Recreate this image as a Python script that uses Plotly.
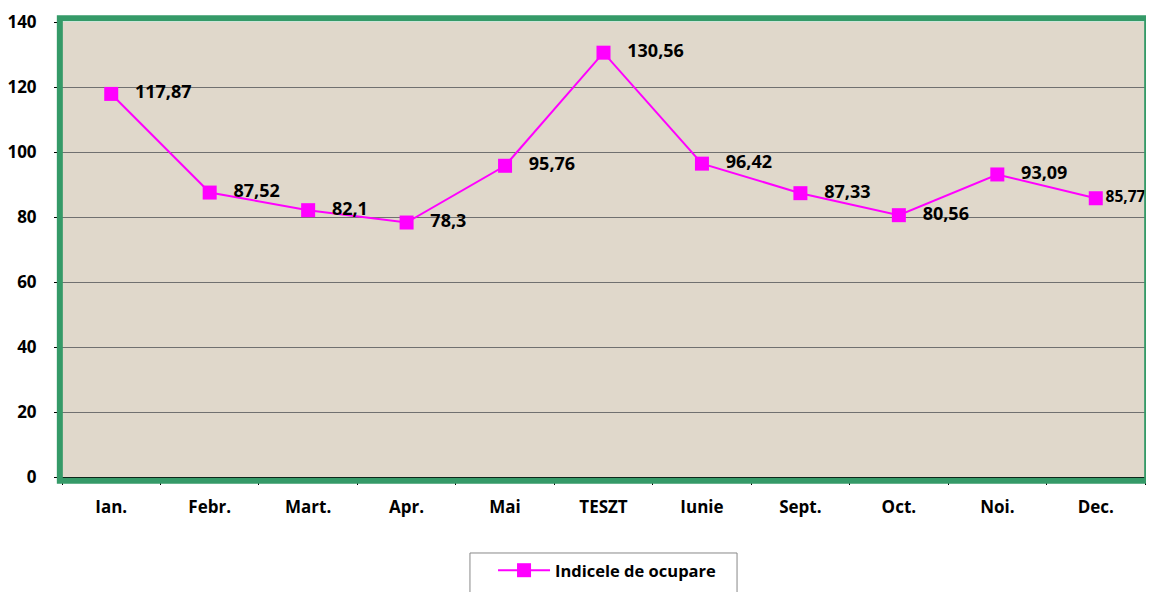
import plotly.graph_objects as go

categories = ["Ian.", "Febr.", "Mart.", "Apr.", "Mai", "TESZT", "Iunie", "Sept.", "Oct.", "Noi.", "Dec."]
values = [117.87, 87.52, 82.1, 78.3, 95.76, 130.56, 96.42, 87.33, 80.56, 93.09, 85.77]
labels = ["117,87", "87,52", "82,1", "78,3", "95,76", "130,56", "96,42", "87,33", "80,56", "93,09", "85,77"]
series_name = "Indicele de ocupare"

font_family = "Open Sans, Noto Sans, sans-serif"
label_pad = ["   "] * 10 + [""]
label_size = [18] * 10 + [15.5]

fig = go.Figure()
fig.add_trace(go.Scatter(
    x=categories, y=values, name=series_name,
    mode="lines+markers+text",
    line=dict(color="#FF00FF", width=2),
    marker=dict(symbol="square", size=14, color="#FF00FF"),
    text=[p + t for p, t in zip(label_pad, labels)],
    textposition="middle right",
    textfont=dict(family=font_family, size=label_size, color="black", weight="bold"),
    cliponaxis=False,
))

# page body has an 8px margin, so the figure is sized/offset to compensate
fig.update_layout(
    width=1146, height=584,
    margin=dict(l=54, r=9, t=14, b=115, autoexpand=False),
    paper_bgcolor="white",
    plot_bgcolor="#E0D8CB",
    font=dict(family=font_family, color="black"),
    showlegend=True,
    legend=dict(
        orientation="h", x=0.398, xanchor="left", y=-0.167, yanchor="top",
        borderwidth=0, bgcolor="rgba(0,0,0,0)",
        font=dict(family=font_family, size=16.5, color="black", weight="bold"),
        itemwidth=52,
    ),
    xaxis=dict(
        type="category", range=[-0.5, 10.5],
        showgrid=False, showline=True, linecolor="black", linewidth=2,
        ticks="outside", ticklen=6, tickcolor="black",
        tickson="boundaries", ticklabelstandoff=14,
        tickfont=dict(family=font_family, size=17, color="black", weight="bold"),
    ),
    yaxis=dict(
        range=[0, 140], dtick=20,
        showgrid=True, gridcolor="#707070", gridwidth=1,
        showline=True, linecolor="black", linewidth=2,
        ticks="outside", ticklen=6, tickcolor="black",
        ticklabelstandoff=14,
        tickfont=dict(family=font_family, size=17, color="black", weight="bold"),
        zeroline=False,
    ),
    shapes=[
        dict(type="rect", xref="paper", yref="paper", x0=-0.002, x1=1.002, y0=-0.008, y1=1.008,
             line=dict(color="#359A68", width=6), layer="above"),
        dict(type="rect", xref="paper", yref="paper", x0=0.3767, x1=0.6233, y0=-0.167, y1=-0.35,
             line=dict(color="#888888", width=1), fillcolor="white", layer="below"),
    ],
)

fig.write_html("out.html")
